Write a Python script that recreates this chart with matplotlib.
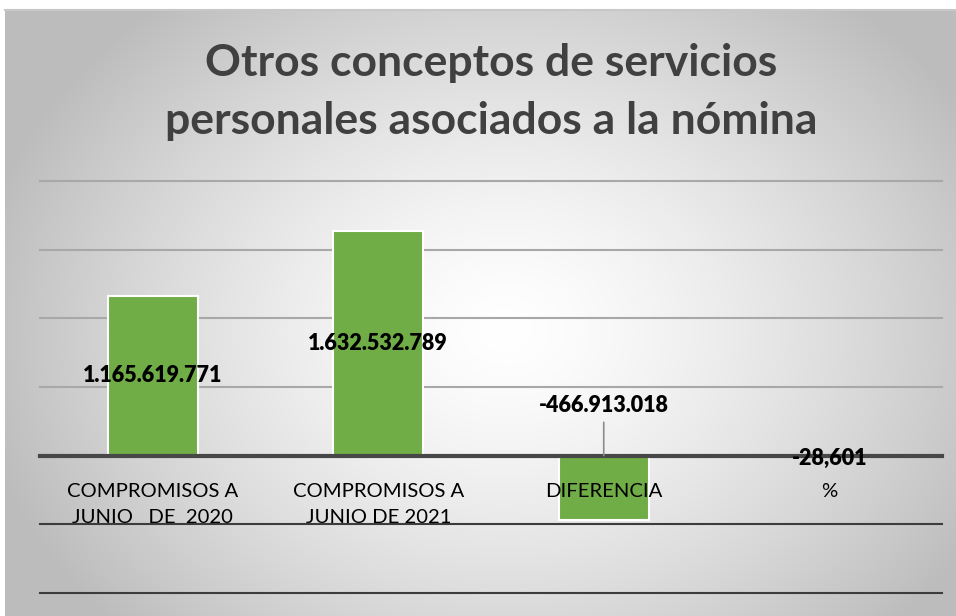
import numpy as np
import matplotlib
matplotlib.use("Agg")
import matplotlib.pyplot as plt

categories = ["COMPROMISOS A\nJUNIO   DE  2020", "COMPROMISOS A\nJUNIO DE 2021", "DIFERENCIA", "%"]
values = [1165619771, 1632532789, -466913018, -28.601]
value_labels = ["1.165.619.771", "1.632.532.789", "-466.913.018", "-28,601"]
gridlines = [-1.0e9, -0.5e9, 0.0, 0.5e9, 1.0e9, 1.5e9, 2.0e9]
title = "Otros conceptos de servicios\npersonales asociados a la nómina"

W, H = 956, 616
fig = plt.figure(figsize=(W / 100, H / 100), dpi=100)
fig.patch.set_facecolor("white")

# background gradient
bg = fig.add_axes([5 / W, 0, 1 - 5 / W, (H - 10) / H])
bg.set_axis_off()
yy, xx = np.mgrid[0:606, 0:951]
cx, cy = 500, 320
r = np.sqrt(((xx - cx) / 1.0) ** 2 + ((yy - cy) / 0.8) ** 2)
v = np.clip(1 - 0.25 * (r / 520) ** 1.4, 0.74, 1)
img = np.dstack([v, v, v])
bg.imshow(img, aspect="auto", extent=[0, 1, 0, 1], origin="upper")
bg.set_xlim(0, 1)
bg.set_ylim(0, 1)
bg.plot([0, 1], [1, 1], color="#c8c8c8", lw=1.5, clip_on=False)

ax = fig.add_axes([40 / W, (H - 593) / H, (942 - 40) / W, (593 - 181) / H])
ax.set_facecolor("none")
ax.set_xlim(-0.5, len(categories) - 0.5)
ax.set_ylim(gridlines[0], gridlines[-1])
for s in ax.spines.values():
    s.set_visible(False)
ax.set_xticks([])
ax.set_yticks([])

for g in gridlines:
    if g > 0:
        ax.axhline(g, color="#a8a8a8", lw=1.5, zorder=1, clip_on=False)
    elif g < 0:
        ax.axhline(g, color="#3c3c3c", lw=1.5, zorder=1, clip_on=False)
ax.axhline(0, color="#474747", lw=3, zorder=4, clip_on=False)

x = np.arange(len(categories))
ax.bar(x, values, width=0.4, color="#70AD47", edgecolor="white", linewidth=1.5, zorder=3)

font = "Lato"
lab_fs = 15.5
for i, (val, lab) in enumerate(zip(values, value_labels)):
    if val > 0:
        ax.text(i, val / 2, lab, ha="center", va="center", fontsize=lab_fs,
                fontweight="heavy", family=font, color="black", zorder=6)
    elif abs(val) > 1e6:
        ax.annotate(lab, xy=(i, 0), xytext=(0, 36), textcoords="offset points",
                    ha="center", va="center", fontsize=lab_fs, fontweight="heavy",
                    family=font, color="black", zorder=6)
        ax.annotate("", xy=(i, 0), xytext=(0, 24), textcoords="offset points",
                    arrowprops=dict(arrowstyle="-", color="#8c8c8c", lw=1.2,
                                    shrinkA=0, shrinkB=0), zorder=5)
    else:
        ax.annotate(lab, xy=(i, 0), xytext=(0, -2), textcoords="offset points",
                    ha="center", va="center", fontsize=lab_fs, fontweight="heavy",
                    family=font, color="black", zorder=6)

for i, cat in enumerate(categories):
    ax.annotate(cat, xy=(i, 0), xytext=(0, -20), textcoords="offset points",
                ha="center", va="top", fontsize=14.6, family=font, color="black",
                linespacing=1.62, zorder=6)

fig.text(491 / W, 1 - 92 / H, title, ha="center", va="center", fontsize=32,
         fontweight="bold", family=font, color="#404040", linespacing=1.55)

fig.savefig("out.png", dpi=100)
